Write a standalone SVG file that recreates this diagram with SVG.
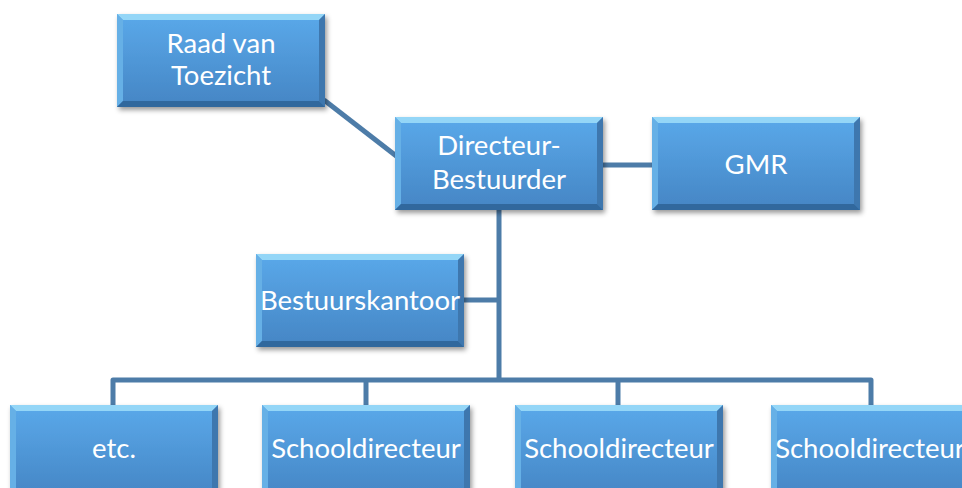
<svg xmlns="http://www.w3.org/2000/svg" xmlns:xlink="http://www.w3.org/1999/xlink" width="962" height="488" viewBox="0 0 962 488">
<style>
.lbl{font-family:Lato,"Open Sans","Liberation Sans",sans-serif;font-size:27.5px;fill:#ffffff;text-anchor:middle}
.conn{stroke:#4d7ca8;stroke-width:5;fill:none;stroke-linejoin:round}
</style>
<defs>
<linearGradient id="face" x1="0" y1="0" x2="0" y2="1">
<stop offset="0" stop-color="#5aa9ea"/>
<stop offset="1" stop-color="#4585c4"/>
</linearGradient>
<filter id="sh" x="-10%" y="-10%" width="125%" height="130%">
<feDropShadow dx="2" dy="3" stdDeviation="2.5" flood-color="#000" flood-opacity="0.4"/>
</filter>
<g id="box">
<rect x="0" y="0" width="208" height="93" fill="url(#face)" filter="url(#sh)"/>
<polygon points="0,0 208,0 202,6 6,6" fill="#94d6f7"/>
<polygon points="0,0 6,6 6,87 0,93" fill="#66b0e6"/>
<polygon points="208,0 208,93 202,87 202,6" fill="#3e77ae"/>
<polygon points="0,93 6,87 202,87 208,93" fill="#31689d"/>
</g>
</defs>
<g id="connectors">
<line class="conn" x1="324" y1="100" x2="404" y2="162"/>
<line class="conn" x1="603" y1="165" x2="652" y2="165"/>
<line class="conn" x1="499" y1="210" x2="499" y2="380"/>
<line class="conn" x1="463" y1="300" x2="499" y2="300"/>
<polyline class="conn" points="113,405 113,380 871,380 871,405"/>
<line class="conn" x1="366" y1="380" x2="366" y2="405"/>
<line class="conn" x1="618" y1="380" x2="618" y2="405"/>
</g>
<g id="raad">
<use xlink:href="#box" x="117" y="14"/>
<text class="lbl" x="221" y="53">Raad van</text>
<text class="lbl" x="221" y="85">Toezicht</text>
</g>
<g id="directeur">
<use xlink:href="#box" x="395" y="117"/>
<text class="lbl" x="499" y="155">Directeur-</text>
<text class="lbl" x="499" y="189">Bestuurder</text>
</g>
<g id="gmr">
<use xlink:href="#box" x="652" y="117"/>
<text class="lbl" x="756" y="174">GMR</text>
</g>
<g id="bestuurskantoor">
<use xlink:href="#box" x="256" y="254"/>
<text class="lbl" x="360" y="310">Bestuurskantoor</text>
</g>
<g id="etc">
<use xlink:href="#box" x="10" y="405"/>
<text class="lbl" x="114" y="458">etc.</text>
</g>
<g id="school1">
<use xlink:href="#box" x="262" y="405"/>
<text class="lbl" x="366" y="458">Schooldirecteur</text>
</g>
<g id="school2">
<use xlink:href="#box" x="515" y="405"/>
<text class="lbl" x="619" y="458">Schooldirecteur</text>
</g>
<g id="school3">
<use xlink:href="#box" x="771" y="405"/>
<text class="lbl" x="870" y="458">Schooldirecteur</text>
</g>
</svg>
